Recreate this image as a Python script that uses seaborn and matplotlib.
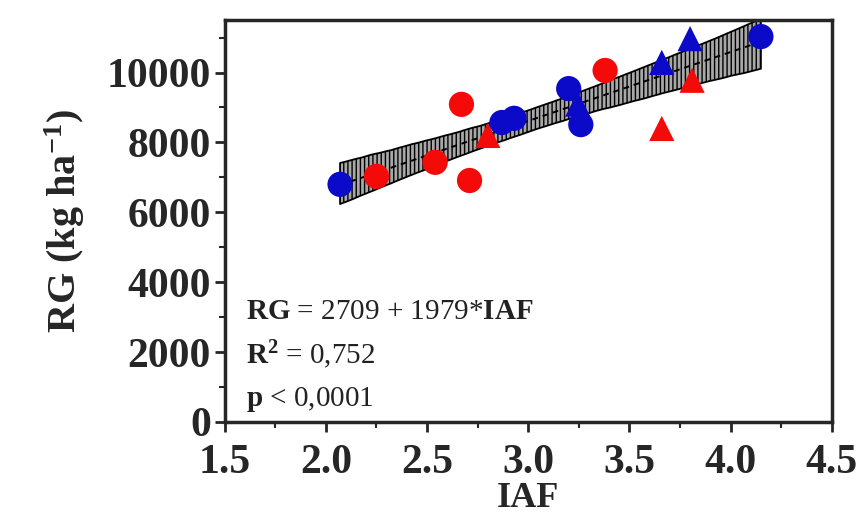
import numpy as np
import pandas as pd
import matplotlib
matplotlib.use("Agg")
import matplotlib.pyplot as plt
import seaborn as sns
from matplotlib.ticker import MultipleLocator

# values
blue_circ_x = [2.07, 2.87, 2.93, 3.20, 3.26, 4.15]
blue_circ_y = [6800, 8570, 8690, 9540, 8510, 11030]
red_circ_x = [2.25, 2.54, 2.67, 2.71, 3.38]
red_circ_y = [7030, 7430, 9090, 6910, 10060]
red_tri_x = [2.80, 3.66, 3.81]
red_tri_y = [8200, 8400, 9780]
blue_tri_x = [3.245, 3.66, 3.80]
blue_tri_y = [9100, 10290, 10970]
x_ticks = [1.5, 2.0, 2.5, 3.0, 3.5, 4.0, 4.5]

df = pd.DataFrame({
    "IAF": blue_circ_x + red_circ_x + red_tri_x + blue_tri_x,
    "RG": blue_circ_y + red_circ_y + red_tri_y + blue_tri_y,
    "grupo": (["bc"] * len(blue_circ_x) + ["rc"] * len(red_circ_x)
              + ["rt"] * len(red_tri_x) + ["bt"] * len(blue_tri_x)),
})

sns.set_style("ticks")
plt.rcParams["font.family"] = ["Liberation Serif", "DejaVu Serif"]
plt.rcParams["mathtext.fontset"] = "custom"
plt.rcParams["mathtext.rm"] = "Liberation Serif"
plt.rcParams["mathtext.bf"] = "Liberation Serif:bold"
plt.rcParams["mathtext.it"] = "Liberation Serif:italic"
plt.rcParams["hatch.linewidth"] = 1.0

fig = plt.figure(figsize=(8.61, 5.17), dpi=100)
ax = fig.add_axes([0.261, 0.184, 0.705, 0.777])

# regression line + confidence band
sns.regplot(data=df, x="IAF", y="RG", scatter=False, ci=95, seed=0,
            n_boot=2000, truncate=True, ax=ax,
            line_kws={"color": "black", "lw": 1.4, "ls": (0, (3, 2.5)), "zorder": 3})
for coll in ax.collections:
    coll.set_facecolor("#a8a8a8")
    coll.set_edgecolor("black")
    coll.set_hatch("||||")
    coll.set_linewidth(1.3)
    coll.set_alpha(1)
    coll.set_zorder(2)

styles = {"bc": ("o", "#0a0ac8"), "rc": ("o", "#f50a0a"),
          "rt": ("^", "#f50a0a"), "bt": ("^", "#0a0ac8")}
for g, (m, c) in styles.items():
    sub = df[df["grupo"] == g]
    sns.scatterplot(data=sub, x="IAF", y="RG", marker=m, color=c, s=330,
                    edgecolor="none", ax=ax, zorder=4, legend=False)

ax.set_xlim(1.5, 4.5)
ax.set_ylim(0, 11500)
ax.set_xticks(x_ticks)
ax.set_xticklabels([f"{v:.1f}" for v in x_ticks])
ax.xaxis.set_minor_locator(MultipleLocator(0.25))
ax.yaxis.set_major_locator(MultipleLocator(2000))
ax.yaxis.set_minor_locator(MultipleLocator(1000))

ax.tick_params(which="major", direction="out", length=7, width=2, labelsize=30)
ax.tick_params(axis="x", which="major", pad=9)
ax.tick_params(axis="y", which="major", pad=3)
ax.tick_params(which="minor", direction="out", length=4, width=1.5)
for lab in ax.get_xticklabels() + ax.get_yticklabels():
    lab.set_fontweight("bold")
for sp in ax.spines.values():
    sp.set_linewidth(2.5)
    sp.set_visible(True)

ax.set_xlabel("IAF", fontsize=26, fontweight="bold", labelpad=0)
ax.set_ylabel(r"RG (kg ha$^{\mathbf{-1}}$)", fontsize=29, fontweight="bold", labelpad=14)

ax.text(0.035, 0.255, r"$\mathbf{RG}$ = 2709 + 1979*$\mathbf{IAF}$",
        transform=ax.transAxes, fontsize=21, color="#222222")
ax.text(0.035, 0.145, r"$\mathbf{R^2}$ = 0,752",
        transform=ax.transAxes, fontsize=21, color="#222222")
ax.text(0.035, 0.04, r"$\mathbf{p}$ < 0,0001",
        transform=ax.transAxes, fontsize=21, color="#222222")

fig.savefig("out.png", dpi=100)
